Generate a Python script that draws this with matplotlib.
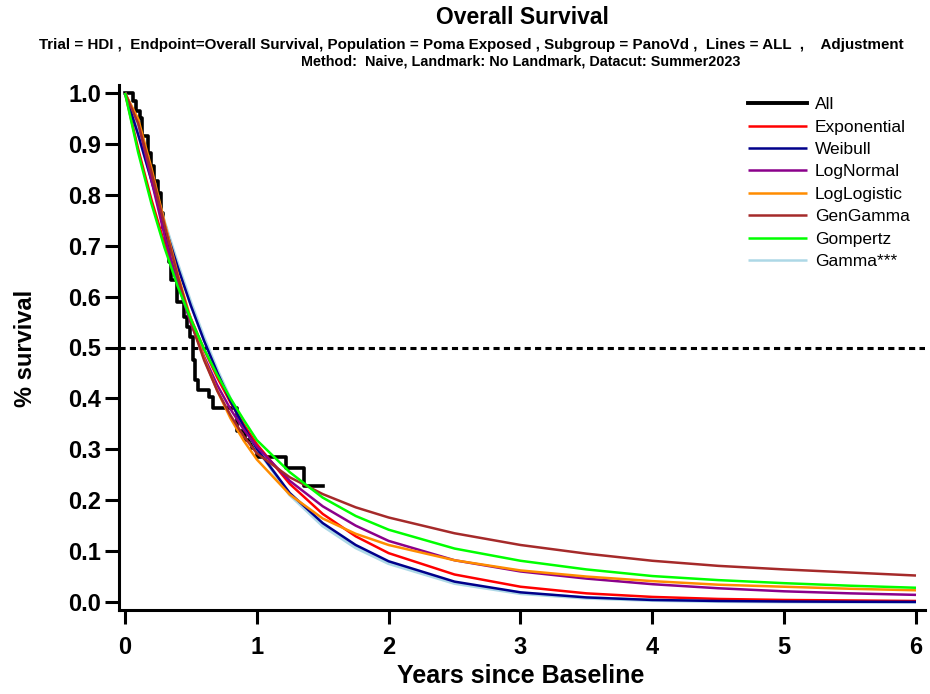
import matplotlib
matplotlib.use("Agg")
import matplotlib.pyplot as plt
import numpy as np

plt.rcParams['font.family'] = ['Liberation Sans', 'DejaVu Sans']

# ---- Kaplan-Meier (All) step data ----
km_times = [0.0, 0.06, 0.085, 0.115, 0.13, 0.175, 0.20, 0.22, 0.25, 0.275, 0.29, 0.31,
            0.335, 0.35, 0.395, 0.45, 0.47, 0.495, 0.515, 0.53, 0.555, 0.64, 0.67,
            0.85, 0.91, 0.965, 1.0, 1.22, 1.36, 1.50]
km_surv = [1.0, 0.984, 0.965, 0.95, 0.916, 0.883, 0.857, 0.828, 0.804, 0.765, 0.734, 0.70,
           0.667, 0.632, 0.589, 0.56, 0.54, 0.52, 0.476, 0.436, 0.417, 0.403, 0.382,
           0.335, 0.319, 0.303, 0.284, 0.264, 0.227, 0.227]

# ---- Parametric fits, values read at these times ----
fit_times = [0, 0.1, 0.2, 0.3, 0.4, 0.5, 0.6, 0.7, 0.8, 0.9, 1.0, 1.25, 1.5, 1.75,
             2.0, 2.5, 3.0, 3.5, 4.0, 4.5, 5.0, 5.5, 6.0]
exponential = [1.0, 0.890, 0.791, 0.704, 0.626, 0.557, 0.496, 0.441, 0.392, 0.349, 0.310,
               0.232, 0.173, 0.129, 0.096, 0.054, 0.030, 0.017, 0.010, 0.006, 0.004, 0.003, 0.002]
weibull = [1.0, 0.918, 0.828, 0.740, 0.658, 0.582, 0.513, 0.451, 0.395, 0.345, 0.301,
           0.214, 0.155, 0.112, 0.080, 0.040, 0.019, 0.009, 0.004, 0.002, 0.001, 0.0005, 0.0002]
lognormal = [1.0, 0.943, 0.829, 0.720, 0.626, 0.547, 0.482, 0.426, 0.379, 0.339, 0.305,
             0.238, 0.188, 0.150, 0.120, 0.082, 0.060, 0.046, 0.035, 0.027, 0.021, 0.017, 0.014]
loglogistic = [1.0, 0.949, 0.853, 0.746, 0.644, 0.555, 0.478, 0.415, 0.361, 0.317, 0.280,
               0.211, 0.164, 0.134, 0.112, 0.082, 0.062, 0.050, 0.041, 0.034, 0.030, 0.026, 0.023]
gengamma = [1.0, 0.940, 0.845, 0.740, 0.640, 0.550, 0.475, 0.415, 0.367, 0.326, 0.292,
            0.245, 0.212, 0.186, 0.166, 0.135, 0.112, 0.095, 0.081, 0.071, 0.064, 0.058, 0.052]
gompertz = [1.0, 0.883, 0.783, 0.696, 0.620, 0.555, 0.497, 0.446, 0.400, 0.358, 0.318,
            0.255, 0.205, 0.169, 0.142, 0.105, 0.081, 0.064, 0.051, 0.043, 0.037, 0.032, 0.028]
gamma = [1.0, 0.922, 0.833, 0.745, 0.663, 0.587, 0.518, 0.455, 0.398, 0.347, 0.302,
         0.211, 0.150, 0.107, 0.076, 0.037, 0.017, 0.008, 0.0035, 0.0015, 0.0007, 0.0003, 0.0001]

labels = ["All", "Exponential", "Weibull", "LogNormal", "LogLogistic", "GenGamma",
          "Gompertz", "Gamma***"]
colors = ["#000000", "#ff0000", "#00008b", "#8b008b", "#ff8c00", "#a52a2a",
          "#00ff00", "#add8e6"]

title = "Overall Survival"
subtitle_1 = ("Trial = HDI ,  Endpoint=Overall Survival, Population = Poma Exposed , "
              "Subgroup = PanoVd ,  Lines = ALL  ,    Adjustment")
subtitle_2 = "Method:  Naive, Landmark: No Landmark, Datacut: Summer2023"
xticks = [0, 1, 2, 3, 4, 5, 6]
yticks = [0.0, 0.1, 0.2, 0.3, 0.4, 0.5, 0.6, 0.7, 0.8, 0.9, 1.0]

W, H = 930, 694
fig = plt.figure(figsize=(W / 100, H / 100), dpi=100)
ax = fig.add_axes([119 / W, 1 - 610 / H, (925 - 119) / W, (610 - 85) / H])
ax.set_xlim(-6 / 131.83, 6 + 9 / 131.83)
ax.set_ylim(-8 / 509, 1 + 8 / 509)

ax.axhline(0.5, color="black", lw=2.2, ls=(0, (2.0, 1.4)), zorder=1)

ax.step(km_times, km_surv, where="post", color=colors[0], lw=2.6, label=labels[0], zorder=2)
fits = [exponential, weibull, lognormal, loglogistic, gengamma, gompertz, gamma]
for i, (vals, lab, col) in enumerate(zip(fits, labels[1:], colors[1:])):
    lw = 2.6 if lab == "Gamma***" else 1.8
    z = 2.5 if lab == "Gamma***" else 3
    ax.plot(fit_times, vals, color=col, lw=lw, label=lab, zorder=z, solid_capstyle="butt")

for s in ["top", "right"]:
    ax.spines[s].set_visible(False)
for s in ["left", "bottom"]:
    ax.spines[s].set_linewidth(2.2)

ax.set_xticks(xticks)
ax.set_xticklabels([str(v) for v in xticks])
ax.set_yticks(yticks)
ax.set_yticklabels([f"{v:.1f}" for v in yticks])
ax.tick_params(axis="both", direction="out", width=2.2, length=10, labelsize=17)
ax.tick_params(axis="x", pad=9)
ax.tick_params(axis="y", pad=3)
for t in ax.get_xticklabels() + ax.get_yticklabels():
    t.set_fontweight("bold")

fig.text(25 / W, 1 - 348 / H, "% survival", rotation=90, ha="center", va="center",
         fontsize=17, fontweight="bold")
fig.text(521 / W, 1 - 676 / H, "Years since Baseline", ha="center", va="center",
         fontsize=18, fontweight="bold")
fig.text(522 / W, 1 - 18 / H, title, ha="center", va="center", fontsize=16.5, fontweight="bold")
fig.text(471 / W, 1 - 45 / H, subtitle_1, ha="center", va="center", fontsize=10.9,
         fontweight="bold")
fig.text(521 / W, 1 - 62 / H, subtitle_2, ha="center", va="center", fontsize=10.4,
         fontweight="bold")

leg = ax.legend(loc="upper left", bbox_to_anchor=(748 / W, 1 - 97 / H),
                bbox_transform=fig.transFigure, frameon=False, fontsize=12.5,
                handlelength=3.4, handletextpad=0.45, labelspacing=0.42,
                borderaxespad=0, borderpad=0)
for lh in leg.get_lines():
    lh.set_linewidth(1.8)
leg.get_lines()[0].set_linewidth(2.8)

fig.savefig("out.png", dpi=100)
